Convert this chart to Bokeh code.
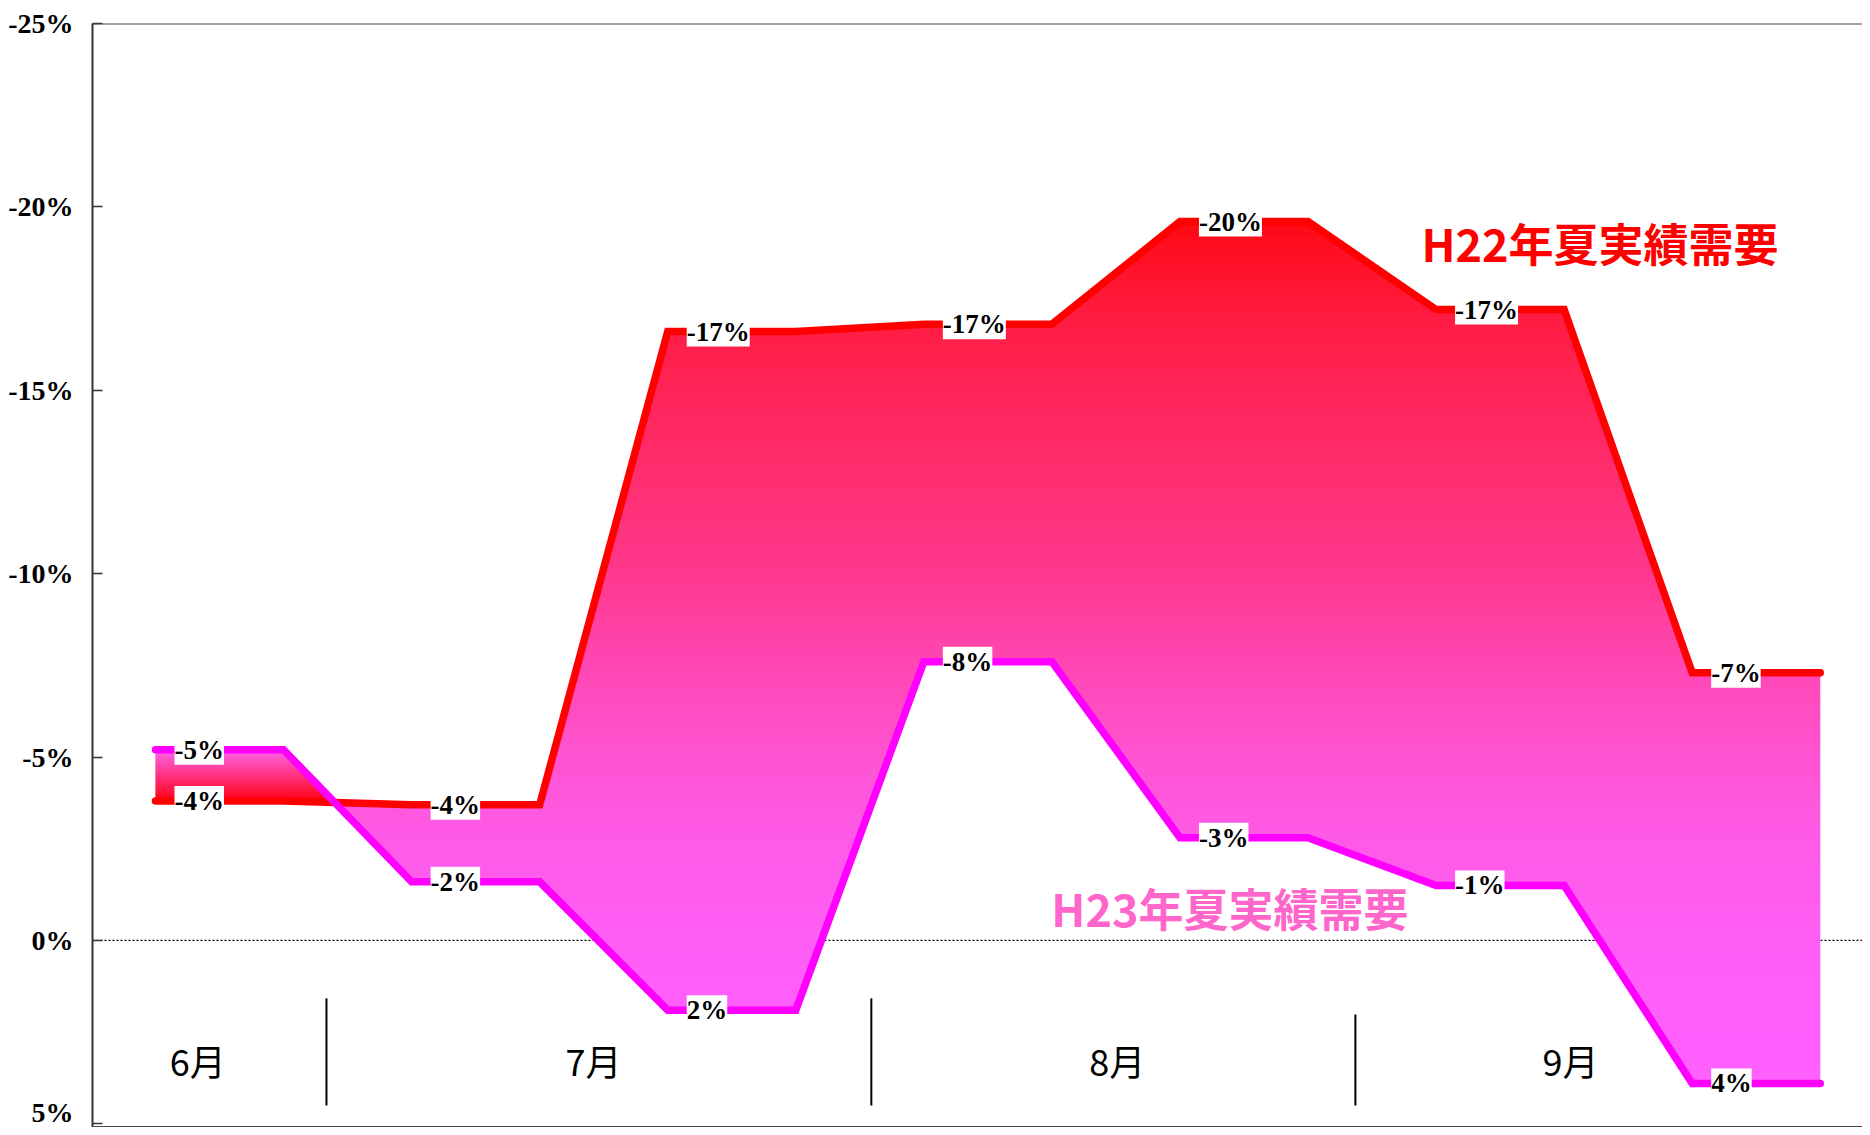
import numpy as np
from bokeh.plotting import figure
from bokeh.models import Range1d, FixedTicker, PrintfTickFormatter, Span, LabelSet, ColumnDataSource
from bokeh.core.properties import value
from bokeh.embed import file_html
from bokeh.resources import INLINE

# ---------------- data ----------------
# two points per period (start / end of each plateau)
h22 = [-3.8, -3.8, -3.7, -3.7, -16.6, -16.6, -16.8, -16.8, -19.6, -19.6, -17.2, -17.2, -7.3, -7.3]
h23 = [-5.2, -5.2, -1.6, -1.6, 1.9, 1.9, -7.6, -7.6, -2.8, -2.8, -1.5, -1.5, 3.9, 3.9]
label_idx = [0, 2, 4, 6, 8, 10, 12]
h22_labels = ["-4%", "-4%", "-17%", "-17%", "-20%", "-17%", "-7%"]
h23_labels = ["-5%", "-2%", "2%", "-8%", "-3%", "-1%", "4%"]
months = ["6月", "7月", "8月", "9月"]
month_x = [0.33, 3.42, 7.51, 11.05]
month_y = [3.25, 3.25, 3.25, 3.25]
divider_x = [1.335, 5.59, 9.37]
divider_top = [1.58, 1.58, 2.02]
divider_bottom = [4.5, 4.5, 4.5]
y_ticks = [-25, -20, -15, -10, -5, 0, 5]
series_names = ["H22年夏実績需要", "H23年夏実績需要"]
series_name_x = [11.28, 8.39]
series_name_y = [-19.03, -0.9]

# ---------------- figure ----------------
p = figure(width=1862, height=1127, x_range=Range1d(-0.492, 13.33), y_range=Range1d(5.1, -25),
           x_axis_type=None, output_backend="svg", toolbar_location=None,
           min_border_left=92, min_border_right=0, min_border_top=23, min_border_bottom=0)
p.outline_line_color = None
p.ygrid.visible = False
p.background_fill_color = "white"
p.border_fill_color = "white"

ax = p.yaxis[0]
ax.ticker = FixedTicker(ticks=y_ticks)
ax.formatter = PrintfTickFormatter(format="%d%%")
ax.major_tick_in = 10
ax.major_tick_out = 0
ax.minor_tick_in = 0
ax.minor_tick_out = 0
ax.axis_line_width = 2
ax.axis_line_color = "#333333"
ax.major_tick_line_color = "#333333"
ax.major_tick_line_width = 1.5
ax.major_label_text_font = "Liberation Serif"
ax.major_label_text_font_style = "bold"
ax.major_label_text_font_size = "28px"
ax.major_label_text_color = "black"
ax.major_label_standoff = 19

# frame top / bottom borders
p.add_layout(Span(location=-25, dimension="width", line_color="#444444", line_width=2))
p.add_layout(Span(location=5.1, dimension="width", line_color="#444444", line_width=3))
# dotted zero line
p.add_layout(Span(location=0, dimension="width", line_color="black", line_width=1.3,
                  line_dash="2 2", level="underlay"))

# ---------------- gradient fill between the curves ----------------
xs = np.arange(len(h22), dtype=float)
A = np.array(h22, dtype=float)
B = np.array(h23, dtype=float)


def crossings(curve, level):
    out = []
    for i in range(len(curve) - 1):
        y0, y1 = curve[i], curve[i + 1]
        if (y0 - level) * (y1 - level) < 0:
            out.append(i + (level - y0) / (y1 - y0))
    return out


d = A - B
ab_cross = [i + d[i] / (d[i] - d[i + 1]) for i in range(len(d) - 1) if d[i] * d[i + 1] < 0]


def band(lo, hi, main):
    pts = set(xs.tolist()) | set(ab_cross)
    for c in (A, B):
        for lev in (lo, hi):
            pts.update(crossings(c, lev))
    xq = np.array(sorted(pts))
    a = np.interp(xq, xs, A)
    b = np.interp(xq, xs, B)
    U = np.maximum(a, b)
    L = a if main else b
    return xq, np.clip(L, lo, hi), np.clip(U, lo, hi)


def hexcol(r, g, b):
    return "#%02x%02x%02x" % (int(round(r)), int(round(g)), int(round(b)))


# main region (H22 above H23)
stops_v = [-19.6, -17.0, -15.0, -12.6, -10.0, -7.4, -5.0, -2.9, 0.0, 3.9]
stops_g = [8, 28, 36, 46, 56, 72, 84, 90, 94, 96]
stops_b = [20, 65, 88, 112, 142, 180, 210, 230, 245, 255]
step = 0.2
ov = 0.05
lo = -19.8
while lo < 4.1:
    hi = lo + step
    xq, y1, y2 = band(lo, hi + ov, True)
    if np.max(y2 - y1) > 1e-9:
        mid = lo + step / 2
        col = hexcol(255, np.interp(mid, stops_v, stops_g), np.interp(mid, stops_v, stops_b))
        p.varea(x=xq, y1=y1, y2=y2, fill_color=col, fill_alpha=1.0)
    lo = hi

# June region (H23 above H22): local gradient pink -> red
sec_v = [-5.2, -3.8]
sec_g = [100, 0]
sec_b = [235, 20]
step2 = 0.07
lo = -5.3
while lo < -3.6:
    hi = lo + step2
    xq, y1, y2 = band(lo, hi + 0.04, False)
    if np.max(y2 - y1) > 1e-9:
        mid = lo + step2 / 2
        col = hexcol(255, np.interp(mid, sec_v, sec_g), np.interp(mid, sec_v, sec_b))
        p.varea(x=xq, y1=y1, y2=y2, fill_color=col, fill_alpha=1.0)
    lo = hi

# ---------------- lines ----------------
p.line(xs, A, line_color="#ff0000", line_width=7.5, line_cap="round", line_join="miter")
p.line(xs, B, line_color="#ff00ff", line_width=7.5, line_cap="round", line_join="miter")

# month dividers
p.segment(x0=divider_x, y0=divider_top, x1=divider_x, y1=divider_bottom,
          line_color="black", line_width=2)

# ---------------- value labels ----------------
src22 = ColumnDataSource(dict(x=[xs[i] for i in label_idx], y=[A[i] for i in label_idx], t=h22_labels))
src23 = ColumnDataSource(dict(x=[xs[i] for i in label_idx], y=[B[i] for i in label_idx], t=h23_labels))
for src in (src22, src23):
    p.add_layout(LabelSet(x="x", y="y", text="t", source=src, x_offset=19,
                          text_baseline="middle", text_align="left",
                          text_font=value("Liberation Serif"), text_font_style="bold",
                          text_font_size="27px", text_color="black",
                          background_fill_color="white"))

# month labels
p.text(x=month_x, y=month_y, text=months, text_align="center", text_baseline="middle",
       text_font=value("Noto Sans CJK JP"), text_font_size="36px", text_color="black")

# series name labels
p.text(x=series_name_x[:1], y=series_name_y[:1], text=series_names[:1], text_align="center",
       text_baseline="middle", text_font=value("Noto Sans CJK JP"), text_font_style="bold",
       text_font_size="45px", text_color="#ff0000")
p.text(x=series_name_x[1:], y=series_name_y[1:], text=series_names[1:], text_align="center",
       text_baseline="middle", text_font=value("Noto Sans CJK JP"), text_font_style="bold",
       text_font_size="45px", text_color="#ff66cc")

open("out.html", "w").write(file_html(p, INLINE, "chart"))
